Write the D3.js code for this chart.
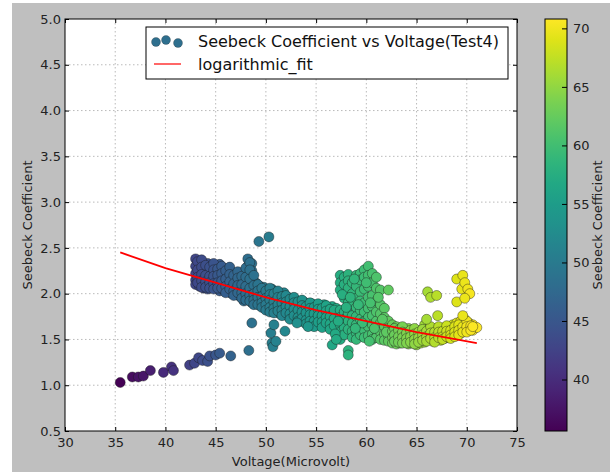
<!DOCTYPE html>
<html>
<head>
<meta charset="utf-8">
<script src="https://cdn.jsdelivr.net/npm/d3@7"></script>
<style>
  body { margin: 0; background: #fff; }
  text { font-family: "DejaVu Sans", sans-serif; }
</style>
</head>
<body>
<div id="chart"></div>
<script>
// seebeck coefficient vs voltage, test4 scatter + log fit

var xTicks = [30, 35, 40, 45, 50, 55, 60, 65, 70, 75];
var yTicks = [0.5, 1.0, 1.5, 2.0, 2.5, 3.0, 3.5, 4.0, 4.5, 5.0];
var cbTicks = [40, 45, 50, 55, 60, 65, 70];
var cbRange = [35.6, 70.8];

// lower branch (single points)
var lowBranch = [[35.5,1.03],[36.7,1.09],[37.3,1.09],[37.8,1.10],[38.5,1.16],[39.8,1.14],
  [40.6,1.20],[40.8,1.16],[42.4,1.22],[42.9,1.24],[43.3,1.30],[43.7,1.27],[44.2,1.26],
  [44.4,1.32],[45.0,1.33],[45.4,1.35],[46.5,1.32],[48.3,1.38]];

// stray points
var outliers = [[48.6,1.68],[49.3,2.57],[50.3,2.62],[50.5,1.57],[50.6,1.46],[50.7,1.42],
  [50.8,1.66],[51.0,1.48],[51.9,1.59],[53.1,1.68],[54.2,1.64],[56.6,1.44],[57.0,1.50],
  [62.2,2.04],[66.0,1.72],[66.1,2.02],[66.4,1.96],[67.0,1.98],[67.1,1.76],[69.0,1.91],
  [69.0,2.16],[69.5,2.05],[69.6,2.20],[69.8,2.12],[70.1,2.05],[70.3,2.00],[69.8,1.95],
  [69.6,1.76],[70.6,1.64]];

// dense band, one column per x with its y values
var mainBand = [
  [43.0,[2.38,2.30,2.22,2.15,2.10]], [43.4,[2.34,2.27,2.20,2.13,2.08]],
  [43.8,[2.30,2.24,2.18,2.11,2.06]], [44.2,[2.33,2.25,2.17,2.10,2.05]],
  [44.6,[2.28,2.22,2.15,2.08]], [45.0,[2.31,2.24,2.16,2.07]],
  [45.4,[2.32,2.25,2.18,2.10,2.03]], [45.8,[2.28,2.20,2.12,2.04]],
  [46.2,[2.27,2.18,2.10,2.02]], [46.6,[2.24,2.16,2.08,2.00]],
  [47.0,[2.22,2.14,2.06,1.99]], [47.4,[2.20,2.12,2.04,1.97]],
  [47.8,[2.24,2.15,2.06,1.98,1.92]], [48.2,[2.38,2.30,2.20,2.10,2.02,1.94]],
  [48.6,[2.33,2.25,2.12,2.03,1.96,1.90]], [49.0,[2.12,2.05,1.98,1.90]],
  [49.4,[2.08,2.01,1.94,1.87]], [49.8,[2.07,2.00,1.92,1.85]],
  [50.2,[2.04,1.97,1.90,1.83]], [50.6,[2.05,1.96,1.88,1.81]],
  [51.0,[2.02,1.94,1.86,1.80]], [51.4,[1.99,1.92,1.85,1.78]],
  [51.8,[2.01,1.93,1.84,1.77]], [52.2,[1.96,1.89,1.82,1.75]],
  [52.6,[1.95,1.88,1.80,1.73]], [53.0,[1.93,1.86,1.79,1.72]],
  [53.4,[1.90,1.84,1.77,1.70]], [53.8,[1.91,1.84,1.76,1.69]],
  [54.2,[1.88,1.81,1.74,1.66]], [54.6,[1.89,1.82,1.75,1.68]],
  [55.0,[1.87,1.80,1.73,1.66]], [55.4,[1.86,1.79,1.72,1.65]],
  [55.8,[1.88,1.80,1.72,1.66]], [56.2,[1.85,1.78,1.71,1.64]],
  [56.6,[1.86,1.77,1.70,1.62]], [57.0,[1.84,1.76,1.68,1.60]]
];

// in-between columns of the same band
var mainBand2 = [
  [43.2,[2.35,2.26,2.18,2.12]], [43.6,[2.37,2.29,2.21,2.14,2.07]],
  [44.0,[2.31,2.20,2.13,2.07]], [44.4,[2.29,2.19,2.12,2.06]],
  [44.8,[2.33,2.26,2.19,2.11,2.05]], [45.2,[2.27,2.20,2.12,2.06]],
  [45.6,[2.30,2.22,2.14,2.06]], [46.0,[2.25,2.16,2.08,2.01]],
  [46.4,[2.29,2.21,2.13,2.05]], [46.8,[2.20,2.11,2.03,1.98]],
  [47.2,[2.24,2.17,2.09,2.01]], [47.6,[2.19,2.10,2.01,1.95]],
  [48.0,[2.28,2.18,2.08,2.00,1.93]], [48.4,[2.34,2.26,2.16,2.06,1.98,1.92]],
  [48.8,[2.20,2.09,2.00,1.93,1.88]], [49.2,[2.10,2.03,1.96,1.88]],
  [49.6,[2.06,1.97,1.90,1.85]], [50.0,[2.03,1.95,1.88,1.82]],
  [50.4,[2.06,1.99,1.93,1.85,1.80]], [50.8,[2.00,1.91,1.84,1.79]],
  [51.2,[2.03,1.96,1.88,1.81]], [51.6,[1.97,1.90,1.82,1.76]],
  [52.0,[1.98,1.91,1.86,1.79]], [52.4,[1.94,1.86,1.78,1.72]],
  [52.8,[1.96,1.90,1.83,1.76]], [53.2,[1.91,1.82,1.74,1.70]],
  [53.6,[1.93,1.87,1.80,1.73]], [54.0,[1.86,1.79,1.71,1.67]],
  [54.4,[1.90,1.84,1.77,1.70]], [54.8,[1.85,1.78,1.70,1.64]],
  [55.2,[1.89,1.83,1.76,1.69]], [55.6,[1.84,1.76,1.69,1.63]],
  [56.0,[1.87,1.81,1.74,1.68]], [56.4,[1.83,1.75,1.67,1.61]],
  [56.8,[1.82,1.73,1.65]]
];

var greenCluster = [
  [57.4,[2.20,2.12,2.04,1.82,1.74,1.66,1.58,1.50]], [57.8,[2.18,2.10,1.95,1.80,1.72,1.63,1.55]],
  [58.2,[2.21,2.14,2.06,1.90,1.78,1.70,1.61,1.38,1.33]], [58.6,[2.12,2.00,1.88,1.76,1.68,1.59,1.52]],
  [59.0,[2.20,2.08,1.95,1.85,1.75,1.66,1.57,1.50]], [59.4,[2.22,2.15,2.02,1.92,1.82,1.72,1.63,1.55]],
  [59.8,[2.26,2.18,2.05,1.90,1.80,1.70,1.60,1.52]], [60.2,[2.30,2.20,2.08,1.96,1.84,1.74,1.64,1.54]],
  [60.6,[2.22,2.12,1.98,1.86,1.76,1.66,1.56,1.50]], [61.0,[2.18,2.06,1.92,1.80,1.70,1.60,1.52]],
  [61.4,[2.04,1.88,1.78,1.68,1.58,1.50]], [61.8,[1.84,1.74,1.64,1.56,1.49]],
  [62.2,[1.70,1.62,1.54,1.48]]
];

// irregular extra points inside the green cluster
var greenExtra = [[57.6,1.99],[58.0,1.85],[58.4,1.96],[58.8,2.16],[59.2,1.88],[59.6,1.68],
  [60.0,2.12],[60.4,1.90],[60.8,1.62],[61.2,1.96],[61.6,1.72],[62.0,1.58],[57.2,1.70],
  [56.9,1.56],[58.9,1.62],[60.3,1.48]];

var tailBand = [
  [62.6,[1.66,1.59,1.52,1.46]], [63.0,[1.64,1.57,1.50,1.45]], [63.4,[1.62,1.56,1.50,1.46]],
  [63.8,[1.60,1.54,1.48]], [64.2,[1.62,1.55,1.49,1.45]], [64.6,[1.58,1.52,1.46]],
  [65.0,[1.60,1.54,1.48,1.44]], [65.4,[1.57,1.51,1.46]], [65.8,[1.66,1.58,1.52,1.47]],
  [66.2,[1.62,1.56,1.50]], [66.6,[1.60,1.54,1.48]], [67.0,[1.62,1.56,1.50]],
  [67.4,[1.61,1.55,1.49]], [67.8,[1.63,1.57,1.51]], [68.2,[1.62,1.56,1.52]],
  [68.6,[1.66,1.60,1.54]], [69.0,[1.68,1.62,1.56]], [69.4,[1.70,1.63,1.57]],
  [69.8,[1.72,1.66,1.60]], [70.2,[1.68,1.62]], [70.6,[1.66,1.60]], [71.0,[1.63]]
];

var tailBand2 = [
  [62.8,[1.62,1.55,1.48]], [63.2,[1.60,1.53,1.47]], [63.6,[1.64,1.58,1.52,1.46]],
  [64.0,[1.57,1.51,1.46]], [64.4,[1.60,1.53,1.47]], [64.8,[1.62,1.56,1.50,1.45]],
  [65.2,[1.58,1.52,1.47]], [65.6,[1.61,1.55,1.49]], [66.0,[1.59,1.53,1.48]],
  [66.4,[1.64,1.57,1.51]], [66.8,[1.58,1.52,1.47]], [67.2,[1.64,1.58,1.52]],
  [67.6,[1.59,1.53,1.50]], [68.0,[1.65,1.59,1.53]], [68.4,[1.60,1.55,1.51]],
  [68.8,[1.64,1.58,1.53]], [69.2,[1.66,1.60,1.55]], [69.6,[1.64,1.58]],
  [70.0,[1.70,1.64,1.58]], [70.4,[1.65,1.60]]
];

// red fitted curve
var fitX = [35.5, 40, 45, 50, 55, 60, 65, 71];
var fitY = [2.45, 2.28, 2.12, 1.96, 1.82, 1.70, 1.58, 1.46];

function flatten(cols) {
  var out = [];
  cols.forEach(function (c) {
    c[1].forEach(function (y) { out.push([c[0], y]); });
  });
  return out;
}

var points = lowBranch.concat(
  flatten(mainBand), flatten(mainBand2),
  flatten(greenCluster), greenExtra,
  flatten(tailBand), flatten(tailBand2),
  outliers);

var W = 610, H = 472;
var plot = { left: 65, top: 19, right: 517, bottom: 431 };
var cb = { left: 545, right: 567 };

var svg = d3.select("#chart").append("svg")
  .attr("width", W)
  .attr("height", H);

// grey figure background
svg.append("rect")
  .attr("x", 12).attr("y", 3)
  .attr("width", W - 12).attr("height", H - 3)
  .attr("fill", "#bfbfbf");

svg.append("rect")
  .attr("x", plot.left).attr("y", plot.top)
  .attr("width", plot.right - plot.left).attr("height", plot.bottom - plot.top)
  .attr("fill", "#fff");

var x = d3.scaleLinear().domain([30, 75]).range([plot.left, plot.right]);
var y = d3.scaleLinear().domain([0.5, 5.0]).range([plot.bottom, plot.top]);
var color = d3.scaleSequential(d3.interpolateViridis).domain(cbRange);

// grid
var grid = svg.append("g")
  .attr("stroke", "#a8a8a8")
  .attr("stroke-width", 0.8)
  .attr("stroke-dasharray", "1.5,2.5");
grid.selectAll(".gx").data(xTicks.slice(1, -1)).enter().append("line")
  .attr("x1", function (d) { return x(d); }).attr("x2", function (d) { return x(d); })
  .attr("y1", plot.top).attr("y2", plot.bottom);
grid.selectAll(".gy").data(yTicks.slice(1, -1)).enter().append("line")
  .attr("y1", function (d) { return y(d); }).attr("y2", function (d) { return y(d); })
  .attr("x1", plot.left).attr("x2", plot.right);

// scatter
svg.append("g").selectAll("circle").data(points).enter().append("circle")
  .attr("cx", function (d) { return x(d[0]); })
  .attr("cy", function (d) { return y(d[1]); })
  .attr("r", 5)
  .attr("fill", function (d) { return color(d[0]); })
  .attr("stroke", "#1a1a1a")
  .attr("stroke-opacity", 0.7)
  .attr("stroke-width", 0.6);

// fit line
var line = d3.line()
  .x(function (d, i) { return x(fitX[i]); })
  .y(function (d) { return y(d); });

svg.append("path")
  .datum(fitY)
  .attr("d", line)
  .attr("fill", "none")
  .attr("stroke", "#ff0000")
  .attr("stroke-width", 1.8);

// axes, ticks pointing inward like classic matplotlib
function styleAxis(g) {
  g.select(".domain").remove();
  g.selectAll("line").attr("stroke", "#000");
  g.selectAll("text").attr("fill", "#222").style("font-size", "13px");
}

svg.append("g")
  .attr("transform", "translate(0," + plot.bottom + ")")
  .call(d3.axisBottom(x).tickValues(xTicks).tickFormat(d3.format("d")).tickSize(-4).tickPadding(7))
  .call(styleAxis);
svg.append("g")
  .attr("transform", "translate(0," + plot.top + ")")
  .call(d3.axisTop(x).tickValues(xTicks).tickFormat("").tickSize(-4))
  .call(styleAxis);
svg.append("g")
  .attr("transform", "translate(" + plot.left + ",0)")
  .call(d3.axisLeft(y).tickValues(yTicks).tickFormat(d3.format(".1f")).tickSize(-4).tickPadding(4))
  .call(styleAxis);
svg.append("g")
  .attr("transform", "translate(" + plot.right + ",0)")
  .call(d3.axisRight(y).tickValues(yTicks).tickFormat("").tickSize(-4))
  .call(styleAxis);

svg.append("rect")
  .attr("x", plot.left).attr("y", plot.top)
  .attr("width", plot.right - plot.left).attr("height", plot.bottom - plot.top)
  .attr("fill", "none")
  .attr("stroke", "#000")
  .attr("stroke-width", 1);

// axis labels
svg.append("text")
  .attr("x", (plot.left + plot.right) / 2)
  .attr("y", 466)
  .attr("text-anchor", "middle")
  .attr("fill", "#222")
  .style("font-size", "13px")
  .text("Voltage(Microvolt)");

svg.append("text")
  .attr("transform", "translate(27," + ((plot.top + plot.bottom) / 2) + ") rotate(-90)")
  .attr("dy", "0.35em")
  .attr("text-anchor", "middle")
  .attr("fill", "#222")
  .style("font-size", "13px")
  .text("Seebeck Coefficient");

// legend
var lg = svg.append("g");
lg.append("rect")
  .attr("x", 146).attr("y", 27)
  .attr("width", 362).attr("height", 52)
  .attr("fill", "#fff")
  .attr("stroke", "#000")
  .attr("stroke-width", 1);

var legendDots = [[156, 42], [166, 40], [178, 43]];
lg.selectAll("circle").data(legendDots).enter().append("circle")
  .attr("cx", function (d) { return d[0]; })
  .attr("cy", function (d) { return d[1]; })
  .attr("r", 4.5)
  .attr("fill", d3.interpolateViridis(0.36))
  .attr("stroke", "#1a1a1a")
  .attr("stroke-opacity", 0.5)
  .attr("stroke-width", 0.5);

lg.append("line")
  .attr("x1", 154).attr("x2", 181)
  .attr("y1", 64).attr("y2", 64)
  .attr("stroke", "#ff0000")
  .attr("stroke-width", 1.2);

lg.append("text")
  .attr("x", 198).attr("y", 41)
  .attr("dy", "0.35em")
  .attr("fill", "#111")
  .style("font-size", "16px")
  .text("Seebeck Coefficient vs Voltage(Test4)");

lg.append("text")
  .attr("x", 198).attr("y", 64)
  .attr("dy", "0.35em")
  .attr("fill", "#111")
  .style("font-size", "16px")
  .text("logarithmic_fit");

// colorbar
var defs = svg.append("defs");
var grad = defs.append("linearGradient")
  .attr("id", "vir")
  .attr("x1", 0).attr("y1", 1).attr("x2", 0).attr("y2", 0);
d3.range(0, 1.0001, 0.05).forEach(function (t) {
  grad.append("stop")
    .attr("offset", t)
    .attr("stop-color", d3.interpolateViridis(t));
});

var cy = d3.scaleLinear().domain(cbRange).range([plot.bottom, plot.top]);

svg.append("rect")
  .attr("x", cb.left).attr("y", plot.top)
  .attr("width", cb.right - cb.left).attr("height", plot.bottom - plot.top)
  .attr("fill", "url(#vir)")
  .attr("stroke", "#000")
  .attr("stroke-width", 1);

svg.append("g")
  .attr("transform", "translate(" + cb.right + ",0)")
  .call(d3.axisRight(cy).tickValues(cbTicks).tickSize(-5).tickPadding(6))
  .call(styleAxis);

svg.append("text")
  .attr("transform", "translate(597," + ((plot.top + plot.bottom) / 2) + ") rotate(-90)")
  .attr("dy", "0.35em")
  .attr("text-anchor", "middle")
  .attr("fill", "#222")
  .style("font-size", "13px")
  .text("Seebeck Coefficient");
</script>
</body>
</html>
